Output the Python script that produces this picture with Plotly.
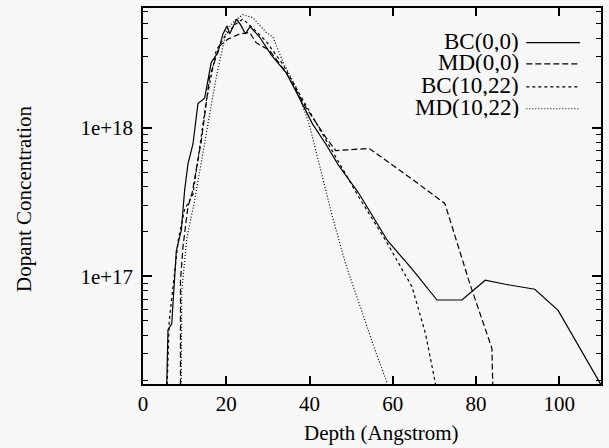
import plotly.graph_objects as go

# ---- data ----
bc00_x = [5.7, 6.0, 6.9, 7.6, 8.0, 9.2, 10.0, 10.8, 12.0, 13.2, 14.8, 16.4, 18.0, 19.2, 20.2, 20.8,
          22.5, 23.6, 24.6, 25.7, 28.0, 30.8, 34.4, 36.8, 40.7, 43.9, 46.9, 51.9, 58.7, 64.6, 70.6,
          76.6, 82.2, 87.0, 94.1, 99.7, 106.1, 110.0]
bc00_y = [1.86e16, 4.37e16, 4.79e16, 9.3e16, 1.48e17, 2.04e17, 3.8e17, 5.7e17, 7.76e17, 1.45e18,
          1.58e18, 2.75e18, 3.2e18, 4.27e18, 4.84e18, 4.27e18, 5.37e18, 4.84e18, 4.27e18, 4.79e18,
          4.07e18, 3.09e18, 2.34e18, 1.74e18, 1.06e18, 7.76e17, 5.62e17, 3.59e17, 1.74e17, 1.12e17,
          6.92e16, 6.92e16, 9.4e16, 8.83e16, 8.18e16, 5.89e16, 2.88e16, 1.86e16]

md00_x = [9.0, 9.0, 9.6, 10.8, 11.8, 14.0, 16.0, 18.4, 20.4, 23.2, 25.6, 27.2, 30.4, 34.4, 39.1,
          43.9, 46.3, 54.3, 63.8, 72.5, 78.5, 83.8, 84.0]
md00_y = [1.86e16, 9.3e16, 1.58e17, 2.95e17, 3.63e17, 8.13e17, 2.19e18, 3.55e18, 3.94e18, 4.27e18,
          4.37e18, 3.72e18, 3.31e18, 2.34e18, 1.37e18, 8.61e17, 7.01e17, 7.24e17, 4.68e17, 3.09e17,
          8.91e16, 3.27e16, 1.86e16]

bc1022_x = [5.8, 6.3, 7.5, 8.5, 10.0, 12.0, 15.2, 17.6, 20.0, 22.4, 24.0, 26.4, 29.6, 33.5, 37.5,
            42.3, 46.3, 51.9, 58.3, 64.6, 67.8, 70.3]
bc1022_y = [1.86e16, 5.01e16, 1.0e17, 1.78e17, 2.82e17, 3.55e17, 1.51e18, 3.31e18, 4.27e18, 5.01e18,
            5.37e18, 4.68e18, 3.8e18, 2.69e18, 1.7e18, 1.0e18, 6.31e17, 3.39e17, 1.74e17, 8.51e16,
            4.17e16, 1.86e16]

md1022_x = [9.2, 9.3, 10.5, 12.4, 15.2, 17.6, 20.0, 22.0, 24.0, 26.4, 29.6, 31.2, 33.5, 36.8, 39.9,
            42.3, 45.5, 48.7, 52.7, 55.9, 58.8]
md1022_y = [1.86e16, 7.94e16, 1.78e17, 3.24e17, 9.12e17, 2.19e18, 4.47e18, 5.25e18, 5.75e18, 5.5e18,
            4.37e18, 4.07e18, 2.82e18, 1.86e18, 1.06e18, 5.62e17, 2.51e17, 1.2e17, 5.62e16, 3.09e16,
            1.86e16]

series_names = ["BC(0,0)", "MD(0,0)", "BC(10,22)", "MD(10,22)"]
series_dash = ["solid", "6px,3px", "3px,3px", "1px,2px"]
x_ticks = [0, 20, 40, 60, 80, 100]
y_ticks = [1e17, 1e18]
y_ticktext = ["1e+17", "1e+18"]
y_minor = [m * 10 ** e for e in (16, 17, 18) for m in range(2, 10) if 1.9e16 < m * 10 ** e < 6.4e18]

FONT = "Liberation Serif"
BG = "#f7f7f7"

fig = go.Figure()
for xs, ys, name, dash in zip([bc00_x, md00_x, bc1022_x, md1022_x],
                              [bc00_y, md00_y, bc1022_y, md1022_y],
                              series_names, series_dash):
    fig.add_trace(go.Scatter(x=xs, y=ys, mode="lines", name=name,
                             line=dict(color="black", width=1.2, dash=dash),
                             showlegend=False))

# gnuplot-style legend: text on the left, line sample on the right
leg_y_text = [0.9104, 0.8541, 0.7944, 0.7347]
leg_y_line = [0.9078, 0.8515, 0.7904, 0.7320]
for name, dash, yt, yl in zip(series_names, series_dash, leg_y_text, leg_y_line):
    fig.add_annotation(x=0.826, y=yt, xref="paper", yref="paper", text=name,
                       showarrow=False, xanchor="right", yanchor="middle", height=21,
                       font=dict(family=FONT, size=23, color="black"))
    fig.add_shape(type="line", xref="paper", yref="paper", x0=0.837, x1=0.954, y0=yl, y1=yl,
                  line=dict(color="black", width=1.2, dash=dash))

fig.add_annotation(x=0.5217, y=-0.13, xref="paper", yref="paper", text="Depth (Angstrom)",
                   showarrow=False, xanchor="center", yanchor="middle",
                   font=dict(family=FONT, size=21, color="black"))
fig.add_annotation(x=-0.2587, y=0.4934, xref="paper", yref="paper", text="Dopant Concentration",
                   showarrow=False, xanchor="center", yanchor="middle", textangle=-90,
                   font=dict(family=FONT, size=21, color="black"))

fig.update_layout(
    width=609, height=448,
    margin=dict(l=143, r=6, t=7, b=64),
    paper_bgcolor=BG, plot_bgcolor=BG,
    font=dict(family=FONT, size=21, color="black"),
    showlegend=False,
)
fig.update_xaxes(range=[0, 110], tickmode="array", tickvals=x_ticks, ticks="inside", ticklen=8,
                 tickwidth=1.8, tickcolor="black", showline=True, linecolor="black", linewidth=1.5,
                 mirror="allticks", showgrid=False, zeroline=False,
                 tickfont=dict(family=FONT, size=21, color="black"))
fig.update_yaxes(type="log", range=[16.275, 18.805], tickmode="array", tickvals=y_ticks,
                 ticktext=y_ticktext,
                 ticks="inside", ticklen=9, tickwidth=1.8, tickcolor="black",
                 showline=True, linecolor="black", linewidth=1.5, mirror="allticks",
                 showgrid=False, zeroline=False, ticklabelstandoff=4,
                 minor=dict(tickmode="array", tickvals=y_minor, ticks="inside", ticklen=5,
                            tickwidth=1.3, tickcolor="black", showgrid=False),
                 tickfont=dict(family=FONT, size=21, color="black"))

fig.write_html("out.html")
